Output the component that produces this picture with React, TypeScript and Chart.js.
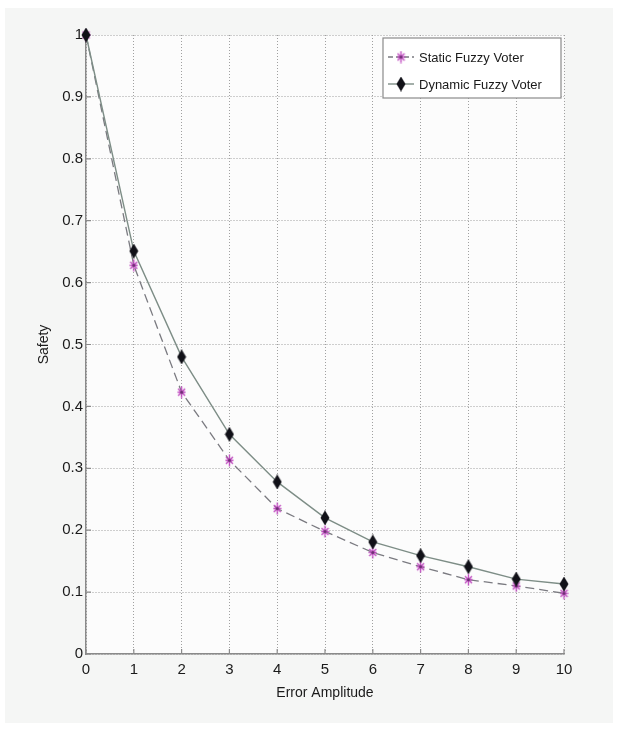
import React, { useEffect, useRef } from "react";
import { Chart, registerables } from "chart.js";

Chart.register(...registerables);

const errorAmplitude = [0, 1, 2, 3, 4, 5, 6, 7, 8, 9, 10];
const staticFuzzyVoter = [1.0, 0.628, 0.423, 0.313, 0.235, 0.198, 0.164, 0.141, 0.12, 0.11, 0.098];
const dynamicFuzzyVoter = [1.0, 0.651, 0.48, 0.355, 0.278, 0.22, 0.181, 0.159, 0.141, 0.121, 0.113];
const seriesLabels = ["Static Fuzzy Voter", "Dynamic Fuzzy Voter"];
const xTitle = "Error Amplitude";
const yTitle = "Safety";

const SANS = '"Liberation Sans", Arial, Helvetica, sans-serif';

function makeDiamond(): HTMLCanvasElement {
  const c = document.createElement("canvas");
  c.width = 10;
  c.height = 15;
  const g = c.getContext("2d")!;
  g.fillStyle = "#111118";
  g.beginPath();
  g.moveTo(5, 0);
  g.lineTo(9.5, 7.5);
  g.lineTo(5, 15);
  g.lineTo(0.5, 7.5);
  g.closePath();
  g.fill();
  return c;
}

function makeStar(): HTMLCanvasElement {
  const c = document.createElement("canvas");
  c.width = 9;
  c.height = 13;
  const g = c.getContext("2d")!;
  g.strokeStyle = "#c04cc0";
  g.lineWidth = 1.4;
  g.beginPath();
  g.moveTo(4.5, 0.5);
  g.lineTo(4.5, 12.5);
  g.moveTo(1, 3);
  g.lineTo(8, 10);
  g.moveTo(8, 3);
  g.lineTo(1, 10);
  g.moveTo(0.5, 6.5);
  g.lineTo(8.5, 6.5);
  g.stroke();
  g.fillStyle = "#6a3070";
  g.beginPath();
  g.arc(4.5, 6.5, 1.5, 0, Math.PI * 2);
  g.fill();
  return c;
}

export default function App() {
  const ref = useRef<HTMLCanvasElement | null>(null);

  useEffect(() => {
    document.body.style.margin = "0";
    const canvas = ref.current;
    if (!canvas) return;
    const diamond = makeDiamond();
    const star = makeStar();

    const bgPlugin = {
      id: "bg",
      beforeDraw(chart: any) {
        const { ctx, width, height, chartArea } = chart;
        ctx.save();
        ctx.fillStyle = "#ffffff";
        ctx.fillRect(0, 0, width, height);
        ctx.fillStyle = "#f5f6f5";
        ctx.fillRect(5, 8, width - 10, height - 16);
        ctx.fillStyle = "#fcfcfc";
        ctx.fillRect(chartArea.left, chartArea.top, chartArea.right - chartArea.left, chartArea.bottom - chartArea.top);
        ctx.restore();
      },
    };

    const ticksPlugin = {
      id: "inTicks",
      beforeDatasetsDraw(chart: any) {
        const { ctx, chartArea, scales } = chart;
        ctx.save();
        ctx.strokeStyle = "#8a8a8a";
        ctx.lineWidth = 1.2;
        ctx.beginPath();
        scales.x.ticks.forEach((t: any) => {
          const px = scales.x.getPixelForValue(t.value);
          ctx.moveTo(px, chartArea.bottom);
          ctx.lineTo(px, chartArea.bottom - 5);
        });
        scales.y.ticks.forEach((t: any) => {
          const py = scales.y.getPixelForValue(t.value);
          ctx.moveTo(chartArea.left, py);
          ctx.lineTo(chartArea.left + 5, py);
        });
        ctx.stroke();
        ctx.restore();
      },
    };

    const legendPlugin = {
      id: "boxLegend",
      afterDraw(chart: any) {
        const { ctx } = chart;
        const x0 = 383, y0 = 38, x1 = 561, y1 = 98;
        ctx.save();
        ctx.fillStyle = "#ffffff";
        ctx.fillRect(x0, y0, x1 - x0, y1 - y0);
        ctx.strokeStyle = "#8a8a8a";
        ctx.lineWidth = 1.2;
        ctx.strokeRect(x0, y0, x1 - x0, y1 - y0);
        const rows = [57, 84];
        chart.data.datasets.forEach((ds: any, i: number) => {
          const y = rows[i];
          ctx.strokeStyle = ds.borderColor;
          ctx.lineWidth = ds.borderWidth;
          ctx.setLineDash(ds.borderDash ? [5, 3] : []);
          ctx.beginPath();
          ctx.moveTo(388, y);
          ctx.lineTo(414, y);
          ctx.stroke();
          ctx.setLineDash([]);
          const img = ds.pointStyle as HTMLCanvasElement;
          ctx.drawImage(img, 401 - img.width / 2, y - img.height / 2);
          ctx.fillStyle = "#1a1a1a";
          ctx.font = "13px " + SANS;
          ctx.textAlign = "left";
          ctx.textBaseline = "middle";
          ctx.fillText(ds.label, 419, y + 1);
        });
        ctx.restore();
      },
    };

    const chart = new Chart(canvas, {
      type: "line",
      data: {
        datasets: [
          {
            label: seriesLabels[0],
            data: errorAmplitude.map((x, i) => ({ x, y: staticFuzzyVoter[i] })),
            borderColor: "#7a7a80",
            borderWidth: 1.3,
            borderDash: [9, 5],
            pointStyle: star as any,
            pointRadius: 6,
            fill: false,
            tension: 0,
            clip: false,
            order: 2,
          },
          {
            label: seriesLabels[1],
            data: errorAmplitude.map((x, i) => ({ x, y: dynamicFuzzyVoter[i] })),
            borderColor: "#7d8d86",
            borderWidth: 1.4,
            pointStyle: diamond as any,
            pointRadius: 6,
            fill: false,
            tension: 0,
            clip: false,
            order: 1,
          },
        ],
      },
      options: {
        animation: false,
        responsive: false,
        devicePixelRatio: 1,
        layout: { padding: { top: 35, right: 54, left: 0, bottom: 0 } },
        plugins: { legend: { display: false }, tooltip: { enabled: false } },
        scales: {
          x: {
            type: "linear",
            min: 0,
            max: 10,
            afterFit(scale: any) {
              scale.height = 77;
            },
            ticks: {
              stepSize: 1,
              padding: 7,
              color: "#1a1a1a",
              font: { family: SANS, size: 15 },
              maxRotation: 0,
            },
            grid: {
              color: "#a0a0a0",
              lineWidth: 1,
              drawTicks: false,
            },
            border: { display: true, color: "#8a8a8a", width: 1.5, dash: [1, 2] } as any,
            title: {
              display: true,
              text: xTitle,
              color: "#1a1a1a",
              font: { family: SANS, size: 14 },
              padding: { top: 0, bottom: 29 },
            },
          },
          y: {
            type: "linear",
            min: 0,
            max: 1,
            afterFit(scale: any) {
              scale.width = 86;
            },
            ticks: {
              stepSize: 0.1,
              padding: 3,
              color: "#1a1a1a",
              font: { family: SANS, size: 15 },
              callback: (v: any) => String(Number(Number(v).toFixed(1))),
            },
            grid: {
              color: "#a0a0a0",
              lineWidth: 1,
              drawTicks: false,
            },
            border: { display: true, color: "#8a8a8a", width: 1.5, dash: [1, 2] } as any,
            title: {
              display: true,
              text: yTitle,
              color: "#1a1a1a",
              font: { family: SANS, size: 14 },
              padding: { top: 36, bottom: 0 },
            },
          },
        },
      } as any,
      plugins: [bgPlugin, ticksPlugin, legendPlugin],
    });

    return () => chart.destroy();
  }, []);

  return (
    <div style={{ width: 618, height: 731 }}>
      <canvas ref={ref} width={618} height={731} style={{ display: "block" }} />
    </div>
  );
}
